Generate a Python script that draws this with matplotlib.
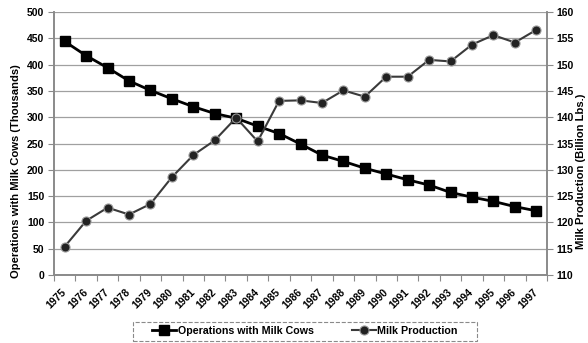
import numpy as np
import matplotlib.pyplot as plt
from matplotlib.patches import Rectangle
from matplotlib.transforms import ScaledTranslation

plt.rcParams['font.family'] = ['Liberation Sans', 'DejaVu Sans']

years = [str(y) for y in range(1975, 1998)]
operations = [444, 417, 394, 369, 351, 335, 320, 307, 298, 283, 269, 249, 228,
              216, 203, 192, 181, 171, 157, 148, 140, 130, 122]
milk = [115.4, 120.3, 122.8, 121.5, 123.5, 128.6, 132.8, 135.6, 139.9, 135.4,
        143.1, 143.2, 142.7, 145.1, 143.9, 147.7, 147.7, 150.9, 150.6, 153.8,
        155.6, 154.2, 156.6]

W, H = 588, 343
fig = plt.figure(figsize=(W / 100, H / 100), dpi=100)
ax = fig.add_axes([54 / W, 1 - 275 / H, (547 - 54) / W, (275 - 12) / H])
ax2 = ax.twinx()

x = np.arange(len(years))
grey = '#8a8a8a'
tfont = dict(fontsize=7.5, fontweight='bold')

ax.set_ylim(0, 500)
ax.set_yticks(np.arange(0, 501, 50))
ax.yaxis.grid(True, color='#a0a0a0', linewidth=0.9)
ax.set_axisbelow(True)
ax2.set_ylim(110, 160)
ax2.set_yticks(np.arange(110, 161, 5))
ax.set_xlim(-0.5, len(years) - 0.5)

l1, = ax.plot(x, operations, color='black', linewidth=2, marker='s',
              markersize=6.5, markerfacecolor='black', markeredgecolor='black',
              label='Operations with Milk Cows', zorder=3)
l2, = ax2.plot(x, milk, color='#3a3a3a', linewidth=1.5, marker='o',
               markersize=6.5, markerfacecolor='#222222', markeredgecolor='#999999',
               markeredgewidth=0.8, label='Milk Production', zorder=3)

# category ticks sit on the boundaries, labels near the centres
ax.set_xticks(np.arange(-0.5, len(years), 1.0))
ax.set_xticklabels([])
ax.set_xticks(x, minor=True)
ax.set_xticklabels(years, minor=True, rotation=45, ha='right', va='center',
                   rotation_mode='anchor', **tfont)
shift = ScaledTranslation(-7 / 100, 0, fig.dpi_scale_trans)
for lab in ax.get_xticklabels(minor=True):
    lab.set_transform(lab.get_transform() + shift)
ax.tick_params(axis='x', which='minor', length=0, pad=11)
ax.tick_params(axis='x', which='major', length=4, color=grey, direction='out')
ax.tick_params(axis='y', length=4, color=grey, pad=3)
ax2.tick_params(axis='y', length=4, color=grey, pad=3)
for lab in ax.get_yticklabels() + ax2.get_yticklabels():
    lab.set_fontsize(7.5)
    lab.set_fontweight('bold')

for a in (ax, ax2):
    a.spines['top'].set_visible(False)
    for s in ('left', 'right', 'bottom'):
        a.spines[s].set_color(grey)
        a.spines[s].set_linewidth(1.2)

ax.set_ylabel('Operations with Milk Cows (Thousands)', fontsize=8.1,
              fontweight='bold')
ax.yaxis.set_label_coords(21 / W, 0.5, transform=fig.transFigure)
ax2.set_ylabel('Milk Production (Billion Lbs.)', fontsize=8.1, fontweight='bold',
               rotation=90)
ax2.yaxis.set_label_coords(576 / W, 0.5, transform=fig.transFigure)

leg = fig.legend(handles=[l1, l2], loc='center',
                 bbox_to_anchor=(305 / W, 1 - 331 / H), ncol=2, frameon=False,
                 handlelength=2.2, handletextpad=0.15, columnspacing=3.6,
                 prop={'weight': 'bold', 'size': 7.7})
fig.add_artist(Rectangle((133 / W, 1 - 341 / H), (477 - 133) / W, 19 / H,
                         transform=fig.transFigure, fill=False, edgecolor=grey,
                         linestyle='--', linewidth=0.8))

fig.savefig('out.png', dpi=100)
